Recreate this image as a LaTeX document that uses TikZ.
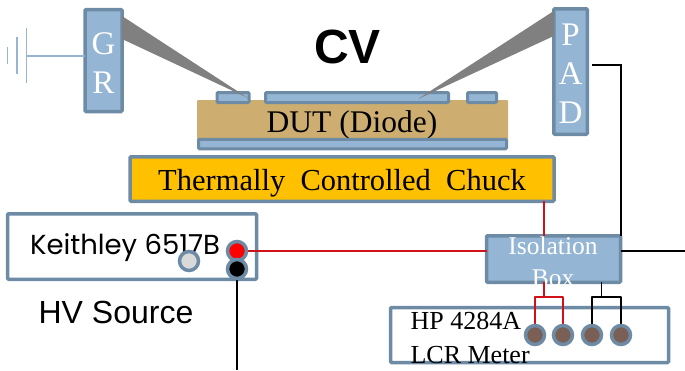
\documentclass[tikz,border=0pt]{standalone}
\usepackage{fontspec}
\setmainfont{Liberation Serif}
\newfontfamily\arialfont{Liberation Sans}
\newfontfamily\gothicfont{Poppins}
\usepackage{tikz}
\usetikzlibrary{positioning,calc}
\definecolor{padblue}{RGB}{148,181,211}
\definecolor{padedge}{RGB}{110,139,165}
\definecolor{duttan}{RGB}{205,174,112}
\definecolor{chuckgold}{RGB}{255,192,0}
\definecolor{pinbrown}{RGB}{122,95,85}
\definecolor{wirered}{RGB}{210,16,24}
\tikzset{
  padbox/.style={draw=padedge,fill=padblue,line width=3.5pt,rounded corners=1pt,inner sep=0pt,outer sep=0pt},
  framebox/.style={draw=padedge,fill=white,line width=3.5pt,rounded corners=1pt,inner sep=0pt,outer sep=0pt},
  padtext/.style={text=white,align=center,font=\fontsize{33}{39}\selectfont},
  port/.style={circle,draw=padedge,line width=3.5pt,minimum size=19pt,inner sep=0pt,outer sep=0pt},
  redwire/.style={wirered,line width=1.9pt},
  blackwire/.style={black,line width=1.9pt},
  groundbar/.style={padblue,line width=1.8pt},
  probe/.style={fill=black!50}
}
\begin{document}
\begin{tikzpicture}[x=1pt,y=-1pt]
\useasboundingbox (0,0) rectangle (685,370);
% Probes
\node[padbox,minimum width=37pt,minimum height=102pt] (gr) at (103.5,60.5) {};
\node[padtext] (grlabel) at (103.5,63) {G\\R};
\node[padbox,minimum width=33.5pt,minimum height=125.5pt] (pad) at (570.5,71.5) {};
\node[padtext] (padlabel) at (570.5,73.5) {P\\A\\D};
% Sample
\node[fill=duttan,rounded corners=1pt,minimum width=311pt,minimum height=40pt,inner sep=0pt] (dut) at (352.5,120) {};
\node[font=\fontsize{31.5}{33}\selectfont] (dutlabel) at (352,125) {DUT (Diode)};
\node[padbox,line width=3pt,minimum width=32pt,minimum height=10pt] (guardpad) at (233,97.5) {};
\node[padbox,line width=3pt,minimum width=183pt,minimum height=10pt] (mainpad) at (357,97.5) {};
\node[padbox,line width=3pt,minimum width=29pt,minimum height=10pt] (edgepad) at (482,97.5) {};
\node[padbox,line width=3pt,minimum width=308pt,minimum height=9.5pt] (backplate) at (352.5,144) {};
\node[framebox,fill=chuckgold,minimum width=424pt,minimum height=44.5pt] (chuck) at (342,179) {};
\node[font=\fontsize{30.5}{32}\selectfont] (chucklabel) at (342,183) {Thermally\ \ Controlled\ \ Chuck};
\node[font=\arialfont\bfseries\fontsize{48}{50}\selectfont] (cvlabel) at (347.5,47) {CV};
% Needles
\coordinate (grtip) at (248,98);
\coordinate (padtip) at (418,99);
\fill[probe] (gr.east |- 0,16) -- (grtip) -- (gr.east |- 0,39) -- cycle;
\fill[probe] (pad.west |- 0,11) -- (padtip) -- (pad.west |- 0,36) -- cycle;
% Ground
\coordinate (gndtop) at (26.5,28);
\coordinate (gndbot) at (26.5,83);
\coordinate (gndmid) at (26.5,55.7);
\draw[groundbar] (gr.west |- gndmid) -- (gndmid);
\draw[groundbar] (gndtop) -- (gndbot);
\draw[groundbar] (17,37) -- (17,74);
\draw[groundbar] (7.5,47) -- (7.5,64);
% Instruments
\node[framebox,minimum width=249pt,minimum height=65.5pt] (keithley) at (132,246.5) {};
\node[font=\gothicfont\fontsize{27.5}{29}\selectfont] (keithleylabel) at (125,248) {Keithley 6517B};
\node[font=\arialfont\fontsize{32}{34}\selectfont] (hvlabel) at (116,312.5) {HV Source};
\node[framebox,minimum width=278pt,minimum height=55pt] (lcr) at (529.5,335) {};
\node[padbox,minimum width=134pt,minimum height=46.5pt] (iso) at (553.5,259) {};
\node[text=white,font=\fontsize{25.5}{27}\selectfont] (isotop) at (553,246) {Isolation};
\node[text=white,font=\fontsize{25.5}{27}\selectfont] (isobot) at (553,278) {Box};
\node[anchor=west,font=\fontsize{26}{28}\selectfont] (lcrtop) at (407,321) {HP 4284A};
\node[anchor=west,font=\fontsize{26}{28}\selectfont] (lcrbot) at (407,355) {LCR Meter};
% Wires
\node[port,fill=black!15] (hvgray) at (189,261) {};
\coordinate (hvred) at (237,251);
\coordinate (hvblack) at (237,269);
\coordinate (lcra) at (535,335);
\coordinate (lcrb) at (563,335);
\coordinate (lcrc) at (592,335);
\coordinate (lcrd) at (621,335);
\coordinate (redsplit) at (544,297);
\coordinate (blacksplit) at (601.5,297);
\coordinate (padout) at (592,65);
\coordinate (rightend) at (685,251);
\coordinate (bottomend) at (237,370);
\draw[redwire] (hvred) -- (iso.west |- hvred);
\draw[redwire] (chuck.south -| redsplit) -- (iso.north -| redsplit);
\draw[redwire] (iso.south -| redsplit) -- (redsplit);
\draw[redwire,line join=round] (lcra) |- (redsplit) -| (lcrb);
\draw[blackwire] (iso.south -| blacksplit) -- (blacksplit);
\draw[blackwire,line join=round] (lcrc) |- (blacksplit) -| (lcrd);
\draw[blackwire] (padout) -| (iso.north -| lcrd);
\draw[blackwire] (iso.east |- rightend) -- (rightend);
\draw[blackwire] (hvblack) -- (bottomend);
% Ports, over the wire ends
\node[port,fill=red] (hvredport) at (hvred) {};
\node[port,fill=black] (hvblackport) at (hvblack) {};
\node[port,fill=pinbrown] (lcraport) at (lcra) {};
\node[port,fill=pinbrown] (lcrbport) at (lcrb) {};
\node[port,fill=pinbrown] (lcrcport) at (lcrc) {};
\node[port,fill=pinbrown] (lcrdport) at (lcrd) {};
\end{tikzpicture}
\end{document}
